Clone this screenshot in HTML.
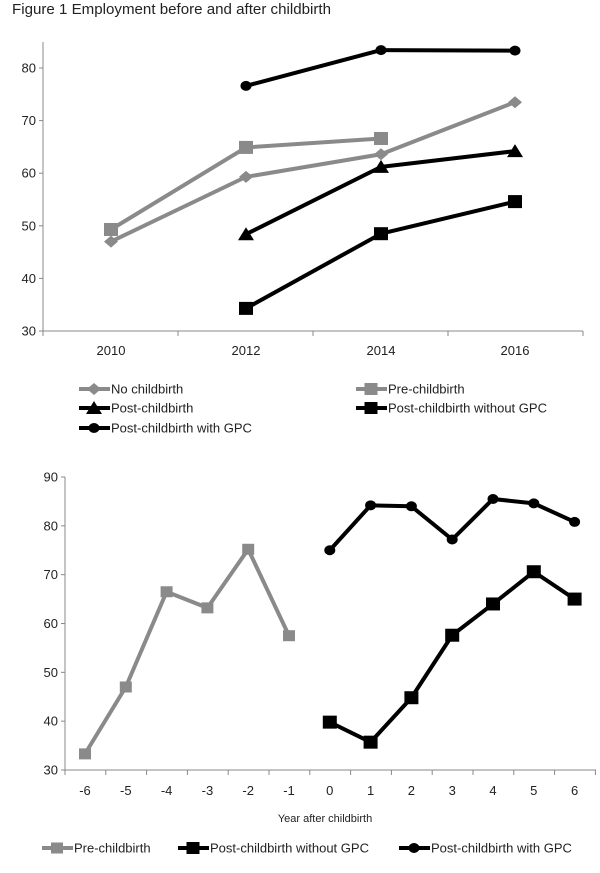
<!DOCTYPE html>
<html><head><meta charset="utf-8">
<style>
html,body{margin:0;padding:0;background:#fff;}
svg{display:block;font-family:"Liberation Sans",Arial,sans-serif;}
</style></head><body>
<svg id="s" width="600" height="873" viewBox="0 0 600 873" xmlns="http://www.w3.org/2000/svg">
<text x="12" y="14" font-size="15" fill="#222" textLength="319" lengthAdjust="spacingAndGlyphs">Figure 1  Employment before and after childbirth</text>
</svg>
<script>
const s=document.getElementById('s');const NS='http://www.w3.org/2000/svg';
function el(t,a,txt){const e=document.createElementNS(NS,t);for(const k in a)e.setAttribute(k,a[k]);if(txt!==undefined)e.textContent=txt;s.appendChild(e);return e;}
const G='#8a8a8a',B='#000';
function marker(type,x,y,c,sz){
 if(type==='sq'){el('rect',{x:x-sz/2-0.5,y:y-sz/2,width:sz+1,height:sz,fill:c});}
 else if(type==='di'){el('polygon',{points:`${x},${y-6} ${x+7},${y} ${x},${y+6} ${x-7},${y}`,fill:c});}
 else if(type==='tr'){el('polygon',{points:`${x},${y-7} ${x+8},${y+6} ${x-8},${y+6}`,fill:c});}
 else if(type==='ci'){el('ellipse',{cx:x,cy:y,rx:sz/2+0.5,ry:sz/2,fill:c});}
}
function series(pts,c,type,sz){el('polyline',{points:pts.map(p=>p.join(',')).join(' '),fill:'none',stroke:c,'stroke-width':4,'stroke-linejoin':'round'});pts.forEach(p=>marker(type,p[0],p[1],c,sz));}
function leg(x,y,c,t,txt,sz){el('line',{x1:x,y1:y,x2:x+31,y2:y,stroke:c,'stroke-width':4});marker(t,x+15,y,c,sz);el('text',{x:x+32,y:y+4.5,'font-size':13,fill:'#222'},txt);}
// Chart 1
{const X0=43,Y30=331,Y80=68,py=v=>Y30-(v-30)*(Y30-Y80)/50;
 const xs=[111,246,381,515];
 el('line',{x1:X0,y1:42,x2:X0,y2:Y30,stroke:'#888'});
 el('line',{x1:X0-4,y1:Y30,x2:583,y2:Y30,stroke:'#888'});
 for(let v=30;v<=80;v+=10){el('line',{x1:X0-4,y1:py(v),x2:X0,y2:py(v),stroke:'#888'});el('text',{x:X0-7,y:py(v)+4.5,'font-size':13,'text-anchor':'end',fill:'#222'},v);}
 [43,178,313,448,583].forEach(x=>el('line',{x1:x,y1:Y30,x2:x,y2:Y30+5,stroke:'#888'}));
 ['2010','2012','2014','2016'].forEach((t,i)=>el('text',{x:xs[i],y:355,'font-size':13,'text-anchor':'middle',fill:'#222'},t));
 series([[xs[0],py(47)],[xs[1],py(59.3)],[xs[2],py(63.6)],[xs[3],py(73.5)]],G,'di');
 series([[xs[0],py(49.3)],[xs[1],py(64.9)],[xs[2],py(66.6)]],G,'sq',13);
 series([[xs[1],py(48.4)],[xs[2],py(61.2)],[xs[3],py(64.2)]],B,'tr');
 series([[xs[1],py(34.3)],[xs[2],py(48.5)],[xs[3],py(54.6)]],B,'sq',13);
 series([[xs[1],py(76.6)],[xs[2],py(83.4)],[xs[3],py(83.3)]],B,'ci',10);
 leg(79,389,G,'di','No childbirth');leg(356,389,G,'sq','Pre-childbirth',12);
 leg(79,408,B,'tr','Post-childbirth');leg(356,408,B,'sq','Post-childbirth without GPC',12);
 leg(79,428,B,'ci','Post-childbirth with GPC',10);
}
// Chart 2
{const X0=65,Y30=770,Y90=477,py=v=>Y30-(v-30)*(Y30-Y90)/60;const st=40.8,px=k=>85+st*(k+6);
 el('line',{x1:X0,y1:Y90,x2:X0,y2:Y30,stroke:'#888'});
 el('line',{x1:X0-4,y1:Y30,x2:596,y2:Y30,stroke:'#888'});
 for(let v=30;v<=90;v+=10){el('line',{x1:X0-4,y1:py(v),x2:X0,y2:py(v),stroke:'#888'});el('text',{x:X0-7,y:py(v)+4.5,'font-size':13,'text-anchor':'end',fill:'#222'},v);}
 for(let i=0;i<=13;i++)el('line',{x1:X0+st*i,y1:Y30,x2:X0+st*i,y2:Y30+5,stroke:'#888'});
 for(let k=-6;k<=6;k++)el('text',{x:px(k),y:795,'font-size':13,'text-anchor':'middle',fill:'#222'},k);
 el('text',{x:325,y:822,'font-size':11,'text-anchor':'middle',fill:'#222'},'Year after childbirth');
 const pre=[33.3,47,66.5,63.2,75.2,57.5],wo=[39.8,35.7,44.8,57.6,64,70.6,65],wi=[75,84.2,84,77.2,85.5,84.6,80.8];
 series(pre.map((v,i)=>[px(i-6),py(v)]),G,'sq',11);
 series(wo.map((v,i)=>[px(i),py(v)]),B,'sq',13);
 series(wi.map((v,i)=>[px(i),py(v)]),B,'ci',10);
 leg(42,848,G,'sq','Pre-childbirth',11);leg(178,848,B,'sq','Post-childbirth without GPC',12);leg(399,848,B,'ci','Post-childbirth with GPC',10);
}
</script>
</body></html>
